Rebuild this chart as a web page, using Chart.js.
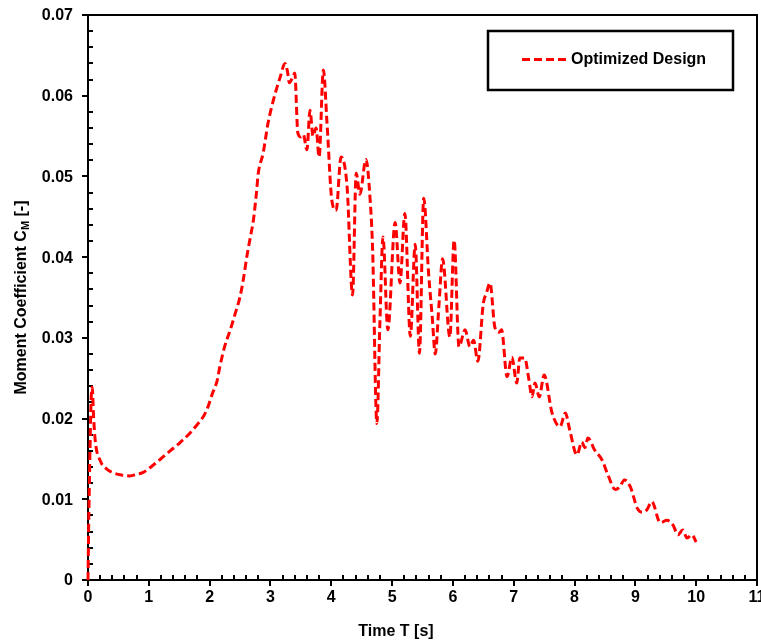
<!DOCTYPE html>
<html>
<head>
<meta charset="utf-8">
<title>Moment Coefficient vs Time</title>
<style>
  html, body { margin: 0; padding: 0; background: #fff; overflow: hidden; }
  #c { display: block; }
</style>
<script src="https://cdn.jsdelivr.net/npm/chart.js@4/dist/chart.umd.min.js"></script>
</head>
<body>
<canvas id="c" width="761" height="644"></canvas>
<script>
// Series: moment coefficient over time
const seriesName = 'Optimized Design';
const timeS = [
  0, 0.01, 0.03, 0.05, 0.07, 0.09, 0.12, 0.2, 0.3, 0.41, 0.55, 0.69, 0.8, 0.9,
  1.05, 1.18, 1.35, 1.51, 1.65, 1.79, 1.9, 1.96, 2.05, 2.12, 2.17, 2.25, 2.34,
  2.42, 2.5, 2.56, 2.61, 2.67, 2.72, 2.77, 2.8, 2.88, 2.96, 3.05, 3.16, 3.24,
  3.28, 3.31, 3.36, 3.4, 3.45, 3.5, 3.54, 3.6, 3.65, 3.7, 3.75, 3.8, 3.87, 3.93,
  4.01, 4.08, 4.16, 4.26, 4.35, 4.41, 4.47, 4.57, 4.64, 4.68, 4.75, 4.8, 4.85,
  4.93, 5.05, 5.13, 5.21, 5.3, 5.38, 5.45, 5.52, 5.6, 5.66, 5.71, 5.77, 5.83,
  5.95, 6.02, 6.1, 6.2, 6.28, 6.34, 6.41, 6.5, 6.55, 6.61, 6.69, 6.76, 6.8,
  6.89, 6.97, 7.05, 7.1, 7.18, 7.25, 7.3, 7.35, 7.42, 7.5, 7.63, 7.76, 7.85,
  7.92, 8.04, 8.12, 8.17, 8.22, 8.33, 8.45, 8.55, 8.67, 8.74, 8.82, 8.92, 9.03,
  9.11, 9.19, 9.27, 9.41, 9.52, 9.62, 9.7, 9.78, 9.85, 9.93, 10.0
];
const momentCoeff = [
  0, 0.006, 0.015, 0.022, 0.0239, 0.0205, 0.0172, 0.0148, 0.0138, 0.0133, 0.0130, 0.0129, 0.0131, 0.0133,
  0.0141, 0.0149, 0.0160, 0.0170, 0.0180, 0.0192, 0.0203, 0.0212, 0.0232, 0.0246, 0.0265, 0.0290, 0.0310,
  0.0330, 0.0351, 0.0375, 0.0400, 0.0425, 0.0446, 0.0480, 0.0504, 0.0529, 0.0566, 0.0595, 0.0623, 0.0640,
  0.0630, 0.0616, 0.0622, 0.0628, 0.0554, 0.0549, 0.0552, 0.0533, 0.0582, 0.0550, 0.0560, 0.0524, 0.0632, 0.0566,
  0.0470, 0.0458, 0.0524, 0.0487, 0.0353, 0.0504, 0.0478, 0.0521, 0.0470, 0.0409, 0.0194, 0.0320, 0.0425,
  0.0310, 0.0443, 0.0368, 0.0454, 0.0302, 0.0416, 0.0281, 0.0473, 0.0380, 0.0326, 0.0280, 0.0340, 0.0398,
  0.0301, 0.0421, 0.0289, 0.0310, 0.0289, 0.0297, 0.0271, 0.0343, 0.0355, 0.0368, 0.0313, 0.0307, 0.0310,
  0.0252, 0.0276, 0.0244, 0.0275, 0.0275, 0.0248, 0.0227, 0.0244, 0.0227, 0.0254, 0.0207, 0.0190, 0.0207,
  0.0186, 0.0155, 0.0171, 0.0164, 0.0176, 0.0161, 0.0149, 0.0130, 0.0112, 0.0115, 0.0124, 0.0115, 0.0089,
  0.0084, 0.0087, 0.0097, 0.0071, 0.0074, 0.0068, 0.0056, 0.0062, 0.0052, 0.0056, 0.0047
];

// Axis ticks
const xTickLabels = ['0', '1', '2', '3', '4', '5', '6', '7', '8', '9', '10', '11'];
const yTickLabels = ['0', '0.01', '0.02', '0.03', '0.04', '0.05', '0.06', '0.07'];
const xTitle = 'Time T [s]';
const yTitleMain = 'Moment Coefficient C';
const yTitleSub = 'M';
const yTitleEnd = ' [-]';

const FONT = '"Liberation Sans", Arial, Helvetica, sans-serif';
const xMinorStep = 0.2;
const yMinorStep = 0.002;

const points = timeS.map((t, i) => ({ x: t, y: momentCoeff[i] }));

// Frame, ticks, tick labels and axis titles
const axesPlugin = {
  id: 'axesPlugin',
  beforeDatasetsDraw(chart) {
    const { ctx, chartArea: a, scales: { x, y } } = chart;
    ctx.save();
    ctx.strokeStyle = '#000';
    ctx.lineWidth = 2;
    ctx.strokeRect(a.left, a.top, a.right - a.left, a.bottom - a.top);

    ctx.beginPath();
    // major ticks point outward
    xTickLabels.forEach(l => {
      const px = Math.round(x.getPixelForValue(Number(l)));
      ctx.moveTo(px, a.bottom); ctx.lineTo(px, a.bottom + 6);
    });
    yTickLabels.forEach(l => {
      const py = Math.round(y.getPixelForValue(Number(l)));
      ctx.moveTo(a.left, py); ctx.lineTo(a.left - 6, py);
    });
    // minor ticks point inward
    const xMax = Number(xTickLabels[xTickLabels.length - 1]);
    for (let k = 1; k * xMinorStep < xMax - 1e-9; k++) {
      if (k % 5 === 0) continue;
      const px = Math.round(x.getPixelForValue(k * xMinorStep));
      ctx.moveTo(px, a.bottom); ctx.lineTo(px, a.bottom - 5);
    }
    const yMax = Number(yTickLabels[yTickLabels.length - 1]);
    for (let k = 1; k * yMinorStep < yMax - 1e-9; k++) {
      if (k % 5 === 0) continue;
      const py = Math.round(y.getPixelForValue(k * yMinorStep));
      ctx.moveTo(a.left, py); ctx.lineTo(a.left + 5, py);
    }
    ctx.stroke();

    // tick labels
    ctx.fillStyle = '#000';
    ctx.font = 'bold 16px ' + FONT;
    ctx.textAlign = 'center';
    ctx.textBaseline = 'middle';
    xTickLabels.forEach(l => {
      ctx.fillText(l, x.getPixelForValue(Number(l)), a.bottom + 18);
    });
    ctx.textAlign = 'right';
    yTickLabels.forEach(l => {
      ctx.fillText(l, a.left - 15, y.getPixelForValue(Number(l)) + 1);
    });

    // x title
    ctx.textAlign = 'center';
    ctx.fillText(xTitle, 396, a.bottom + 52);

    // y title with subscript
    ctx.save();
    ctx.translate(22, (a.top + a.bottom) / 2);
    ctx.rotate(-Math.PI / 2);
    ctx.textAlign = 'left';
    const mainFont = 'bold 16px ' + FONT;
    const subFont = 'bold 11px ' + FONT;
    ctx.font = mainFont;
    const w1 = ctx.measureText(yTitleMain).width;
    const w3 = ctx.measureText(yTitleEnd).width;
    ctx.font = subFont;
    const w2 = ctx.measureText(yTitleSub).width;
    let cx = -(w1 + w2 + w3) / 2;
    ctx.font = mainFont;
    ctx.fillText(yTitleMain, cx, 0);
    cx += w1;
    ctx.font = subFont;
    ctx.fillText(yTitleSub, cx, 4);
    cx += w2;
    ctx.font = mainFont;
    ctx.fillText(yTitleEnd, cx, 0);
    ctx.restore();

    ctx.restore();
  },
  afterDraw(chart) {
    // legend box
    const { ctx, chartArea: a } = chart;
    const ds = chart.data.datasets[0];
    const bx = a.right - 269, by = a.top + 16, bw = 245, bh = 59;
    ctx.save();
    ctx.fillStyle = '#fff';
    ctx.fillRect(bx, by, bw, bh);
    ctx.strokeStyle = '#000';
    ctx.lineWidth = 2.5;
    ctx.strokeRect(bx, by, bw, bh);
    const ly = by + bh / 2 - 1;
    ctx.strokeStyle = ds.borderColor;
    ctx.lineWidth = ds.borderWidth;
    ctx.setLineDash(ds.borderDash);
    ctx.beginPath();
    ctx.moveTo(bx + 34, ly); ctx.lineTo(bx + 80, ly);
    ctx.stroke();
    ctx.setLineDash([]);
    ctx.fillStyle = '#000';
    ctx.font = 'bold 16px ' + FONT;
    ctx.textAlign = 'left';
    ctx.textBaseline = 'middle';
    ctx.fillText(ds.label, bx + 83, ly);
    ctx.restore();
  }
};

new Chart(document.getElementById('c'), {
  type: 'line',
  data: {
    datasets: [{
      label: seriesName,
      data: points,
      borderColor: '#ff0000',
      borderWidth: 3,
      borderDash: [8, 4],
      borderCapStyle: 'butt',
      pointRadius: 0,
      fill: false,
      cubicInterpolationMode: 'monotone',
      clip: 6
    }]
  },
  options: {
    responsive: false,
    animation: false,
    devicePixelRatio: 1,
    layout: { padding: { left: 88, right: 4, top: 15, bottom: 64 } },
    plugins: { legend: { display: false }, tooltip: { enabled: false } },
    scales: {
      x: { type: 'linear', display: false, min: 0, max: 11 },
      y: { type: 'linear', display: false, min: 0, max: 0.07 }
    }
  },
  plugins: [axesPlugin]
});
</script>
</body>
</html>
